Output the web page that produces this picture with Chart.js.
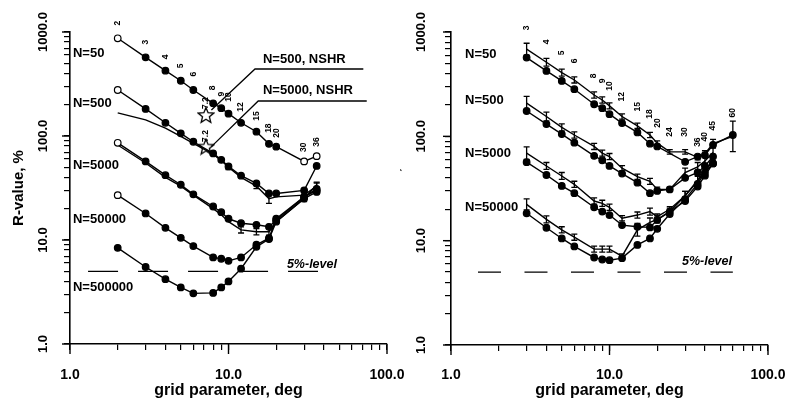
<!DOCTYPE html>
<html>
<head>
<meta charset="utf-8">
<script src="https://cdn.jsdelivr.net/npm/chart.js@4/dist/chart.umd.min.js"></script>
<style>
html, body { margin: 0; padding: 0; background: #fff; }
#wrap { position: relative; width: 787px; height: 401px; overflow: hidden; }
#cL { position: absolute; left: 0; top: 0; }
#cR { position: absolute; left: 400px; top: 0; }
</style>
</head>
<body>
<div id="wrap">
  <canvas id="cL" width="420" height="401"></canvas>
  <canvas id="cR" width="387" height="401"></canvas>
</div>
<script>
const FONT = '"Liberation Sans", Arial, Helvetica, sans-serif';

// ---- left panel data (grid parameter, deg -> R-value, %) ----
const gridL    = [2, 3, 4, 5, 6, 7.2, 8, 9, 10, 12, 15, 18, 20, 30, 36];
const l50      = [870, 571, 425, 340, 277, null, 206, 185, 164, 134, 110, 84, 79, 57, 64];
const l500     = [277, 182, 134, 106, 88, null, 68, 59, 51, 41.5, 35, 28, 28, 30, 51.5];
const l500b    = [167, 143, 119, 99, 85, null, 67, 58, 50, 40, 33, 25, 26, 27, 33];
const l500bErr = [null, null, null, null, null, null, null, null, 1.05, null, 1.06, 1.11, null, 1.06, 1.07];
const l5000    = [86, 57, 42, 34, 27.5, null, 21, 18.5, 16, 14.5, 14, 13.4, 15.5, 26, 31];
const l5000b   = [82, 55, 40, 33, 27, null, 20, 17.5, 15, 12.5, 12, 12, 15, 25, 34];
const l5000bErr= [null, null, null, null, null, null, null, null, null, 1.07, 1.07, 1.08, null, 1.07, 1.06];
const l50000   = [27, 18, 13.1, 10.5, 8.75, null, 6.8, 6.6, 6.3, 6.8, 9.0, 10.4, 16, 26, 30];
const l500000  = [8.4, 5.5, 4.2, 3.5, 3.07, null, 3.1, 3.5, 4.0, 5.3, 8.6, 10.2, 15, 25, 29];
const nshrX    = [7.2, 7.2];
const nshrY    = [159, 79];
const leader500X  = [7.8, 14.7, 70.9];
const leader500Y  = [178, 441, 441];
const leader5000X = [7.8, 15.4, 74.5];
const leader5000Y = [79, 217, 217];
const levelL   = [1.3, 36.7];   // x span of the 5%-level line

// ---- right panel data ----
const gridR     = [3, 4, 5, 6, 8, 9, 10, 12, 15, 18, 20, 24, 30, 36, 40, 45, 60];
const r50       = [569, 424, 340, 283, 203, 186, 163, 134, 109, 85, 80, null, 57, 64, 66, 83, 103];
const r50b      = [684, 513, 408, 347, 249, 223, 196, 155, 126, 103, 86, 71, 71, 63, 68, 85, 100];
const r50bErr   = [1.14, 1.09, 1.08, 1.07, 1.07, 1.07, 1.07, 1.06, 1.06, 1.06, 1.05, 1.05, 1.05, 1.06, 1.07, 1.1, 1.4];
const r500      = [175, 131, 105, 87, 65, 59, 52, 44, 36, 28.5, 30, 31, 40, 45, 52, 64, null];
const r500b     = [208, 155, 122, 103, 80, 69, 64, 49.5, 41, 37, 31, 31, 45, 51, 58, 70, null];
const r500bErr  = [1.16, 1.1, 1.08, 1.07, 1.07, 1.07, 1.07, 1.06, 1.06, 1.07, 1.05, 1.05, 1.1, 1.1, 1.1, 1.12, null];
const r5000     = [56.5, 42.6, 33.5, 28.5, 20.9, 19, 17.6, 14.1, 13.6, 13.4, 15.8, 19, 24, 33, 42, 55, null];
const r5000b    = [69, 52, 41.7, 34.7, 24, 22.8, 20.9, 16.4, 17.6, 19, 17, 20, 27, 37, 46, 60, null];
const r5000bErr = [1.15, 1.08, 1.08, 1.07, 1.07, 1.07, 1.07, 1.06, 1.07, 1.08, 1.06, 1.06, 1.1, 1.12, 1.12, 1.12, null];
const r50000    = [18.3, 13.3, 10.5, 8.8, 6.9, 6.6, 6.5, 6.8, 9.1, 10.5, 13, 18, 25, 35, 45, 55, null];
const r50000b   = [22.3, 16, 12.7, 10.8, 8.3, 8.3, 8.3, 7.1, 12.7, 15, 16, 19, 27, 38, 47, 58, null];
const r50000bErr= [1.13, 1.08, 1.07, 1.07, 1.07, 1.07, 1.07, 1.05, 1.15, 1.1, 1.08, 1.08, 1.1, 1.12, 1.12, 1.12, null];
const levelR    = [1.48, 60];
const LEVEL = 5;

// ---- tick values / labels ----
const xTickValues = [1,2,3,4,5,6,7,8,9,10,20,30,40,50,60,70,80,90,100];
const yTickValues = [1,2,3,4,5,6,7,8,9,10,20,30,40,50,60,70,80,90,100,200,300,400,500,600,700,800,900,1000];

// grid parameter labels written along the top curves (text, x, y in data units)
const gpTextL = ['2','3','4','5','6','8','9','10','12','15','18','20','30','36','7.2','7.2'];
const gpXL    = [2, 3, 4, 5, 6, 8, 9, 10, 12, 15, 18, 20, 30, 36, 7.2, 7.2];
const gpYL    = [1220, 801, 575, 471, 394, 290, 253, 237, 190, 156, 119, 107, 78, 87.5, 207, 100];
const gpTextR = ['3','4','5','6','8','9','10','12','15','18','20','24','30','36','40','45','60'];
const gpYR    = [1094, 804, 630, 528, 379, 340, 304, 239, 192, 164, 134, 110, 110, 88, 99, 126, 168];

const notesL = [
  {t: 'N=50', x: 1.044, y: 628, size: 13},
  {t: 'N=500', x: 1.044, y: 207, size: 13},
  {t: 'N=5000', x: 1.044, y: 52.6, size: 13},
  {t: 'N=50000', x: 1.044, y: 15.9, size: 13},
  {t: 'N=500000', x: 1.044, y: 3.53, size: 13},
  {t: 'N=500, NSHR', x: 16.5, y: 550, size: 13},
  {t: 'N=5000, NSHR', x: 16.5, y: 277, size: 13},
  {t: '5%-level', x: 33.6, y: 5.75, size: 12.5, italic: true, align: 'center'}
].concat(gpTextL.map((t, i) => ({t, x: gpXL[i], y: gpYL[i], size: 8.5, rot: true, align: 'center'})));

const notesR = [
  {t: 'N=50', x: 1.226, y: 603, size: 13},
  {t: 'N=500', x: 1.226, y: 223, size: 13},
  {t: 'N=5000', x: 1.226, y: 69.3, size: 13},
  {t: 'N=50000', x: 1.226, y: 21, size: 13},
  {t: '5%-level', x: 41.2, y: 6.25, size: 12.5, italic: true, align: 'center'}
].concat(gpTextR.map((t, i) => ({t, x: gridR[i], y: gpYR[i], size: 8.5, rot: true, align: 'center'})));

// open five-point star used for the NSHR points
function makeStar() {
  const c = document.createElement('canvas');
  c.width = 18; c.height = 18;
  const g = c.getContext('2d');
  g.beginPath();
  for (let k = 0; k < 10; k++) {
    const r = k % 2 ? 3.6 : 8.2;
    const a = -Math.PI / 2 + k * Math.PI / 5;
    const px = 9 + r * Math.cos(a), py = 9.6 + r * Math.sin(a);
    k ? g.lineTo(px, py) : g.moveTo(px, py);
  }
  g.closePath();
  g.fillStyle = '#fff'; g.fill();
  g.strokeStyle = '#000'; g.lineWidth = 1.3; g.stroke();
  return c;
}

function pts(xs, ys) { return xs.map((x, i) => ({x: x, y: ys[i]})); }

function dotLine(xs, ys, open) {
  return {
    data: pts(xs, ys), borderColor: '#000', borderWidth: 1.4, spanGaps: true,
    pointRadius: 3.3, pointBorderColor: '#000', pointBorderWidth: 1.2,
    pointBackgroundColor: ys.map((_, i) => (open || []).includes(i) ? '#fff' : '#000')
  };
}
function ebLine(xs, ys, err) {
  return {data: pts(xs, ys), borderColor: '#000', borderWidth: 1.4, spanGaps: true, pointRadius: 0, errF: err};
}
function plainLine(xs, ys, dash) {
  return {data: pts(xs, ys), borderColor: '#000', borderWidth: 1.3, pointRadius: 0, borderDash: dash || []};
}

const isDecade = v => Math.abs(Math.log10(v) - Math.round(Math.log10(v))) < 1e-9;

// error bars, longer major ticks, text notes
const extras = {
  id: 'extras',
  afterDatasetsDraw(chart, args, opts) {
    const ctx = chart.ctx, xs = chart.scales.x, ys = chart.scales.y;
    ctx.save();
    ctx.strokeStyle = '#000';
    ctx.lineWidth = 1.3;
    chart.data.datasets.forEach(ds => {
      if (!ds.errF) return;
      ds.data.forEach((p, i) => {
        const f = ds.errF[i];
        if (!f || p.y == null) return;
        const px = xs.getPixelForValue(p.x);
        const y1 = ys.getPixelForValue(p.y / f), y2 = ys.getPixelForValue(p.y * f);
        ctx.beginPath();
        ctx.moveTo(px, y1); ctx.lineTo(px, y2);
        ctx.moveTo(px - 3, y1); ctx.lineTo(px + 3, y1);
        ctx.moveTo(px - 3, y2); ctx.lineTo(px + 3, y2);
        ctx.stroke();
      });
    });
    // major ticks a bit longer than the minor ones
    ctx.lineWidth = 1.4;
    xTickValues.filter(isDecade).forEach(v => {
      const px = xs.getPixelForValue(v);
      ctx.beginPath(); ctx.moveTo(px, ys.bottom); ctx.lineTo(px, ys.bottom + 10); ctx.stroke();
    });
    yTickValues.filter(isDecade).forEach(v => {
      const py = ys.getPixelForValue(v);
      ctx.beginPath(); ctx.moveTo(xs.left, py); ctx.lineTo(xs.left - 8, py); ctx.stroke();
    });
    ctx.fillStyle = '#000';
    (opts.notes || []).forEach(n => {
      ctx.save();
      ctx.translate(xs.getPixelForValue(n.x), ys.getPixelForValue(n.y));
      if (n.rot) ctx.rotate(-Math.PI / 2);
      ctx.font = (n.italic ? 'italic ' : '') + 'bold ' + n.size + 'px ' + FONT;
      ctx.textAlign = n.align || 'left';
      ctx.textBaseline = 'middle';
      ctx.fillText(n.t, 0, 0);
      ctx.restore();
    });
    ctx.restore();
  }
};

function panelOptions(cfg) {
  const gridOpts = {drawOnChartArea: false, color: '#000', tickLength: 6, lineWidth: 1.2};
  const border = {color: '#000', width: 1.6};
  return {
    responsive: false,
    animation: false,
    layout: {padding: {top: 32, right: cfg.padRight, bottom: 0, left: 0}},
    plugins: {legend: {display: false}, tooltip: {enabled: false}, extras: {notes: cfg.notes}},
    scales: {
      x: {
        type: 'logarithmic', min: 1, max: 100,
        afterBuildTicks: s => { s.ticks = xTickValues.map(v => ({value: v})); },
        afterFit: s => { s.height = cfg.xHeight; s.paddingLeft = 0; s.paddingRight = 0; },
        grid: gridOpts, border: border,
        ticks: {
          autoSkip: false, minRotation: 0, maxRotation: 0, padding: cfg.xTickPad, color: '#000',
          font: {family: FONT, size: 14, weight: 'bold'},
          callback: v => isDecade(v) ? Number(v).toFixed(1) : ''
        },
        title: {display: true, text: 'grid parameter, deg', color: '#000',
                font: {family: FONT, size: 16, weight: 'bold'}, padding: {top: 0, bottom: 1}}
      },
      y: {
        type: 'logarithmic', min: 1, max: 1000,
        afterBuildTicks: s => { s.ticks = yTickValues.map(v => ({value: v})); },
        afterFit: s => { s.width = cfg.yWidth; s.paddingTop = 0; s.paddingBottom = 0; },
        grid: gridOpts, border: border,
        ticks: {
          autoSkip: false, minRotation: 90, maxRotation: 90, crossAlign: 'center',
          padding: cfg.yTickPad, color: '#000',
          font: {family: FONT, size: 13, weight: 'bold'},
          callback: v => isDecade(v) ? Number(v).toFixed(1) : ''
        },
        title: {display: true, text: 'R-value, %', color: '#000',
                font: {family: FONT, size: 15, weight: 'bold'}, padding: {top: cfg.yTitlePad, bottom: 0}}
      }
    }
  };
}

const star = makeStar();

new Chart(document.getElementById('cL'), {
  type: 'line',
  data: {
    datasets: [
      plainLine(levelL, [LEVEL, LEVEL], [30, 20]),
      plainLine(leader500X, leader500Y),
      plainLine(leader5000X, leader5000Y),
      dotLine(gridL, l50, [0, 13, 14]),
      dotLine(gridL, l500, [0]),
      ebLine(gridL, l500b, l500bErr),
      dotLine(gridL, l5000, [0]),
      ebLine(gridL, l5000b, l5000bErr),
      dotLine(gridL, l50000, [0]),
      dotLine(gridL, l500000),
      {data: pts(nshrX, nshrY), showLine: false, pointStyle: star, pointRadius: 8}
    ]
  },
  options: panelOptions({padRight: 33, xHeight: 57, yWidth: 70, xTickPad: 16.6, yTickPad: 1.1, yTitlePad: 10, notes: notesL}),
  plugins: [extras]
});

new Chart(document.getElementById('cR'), {
  type: 'line',
  data: {
    datasets: [
      plainLine(levelR, [LEVEL, LEVEL], [23, 23.5]),
      dotLine(gridR, r50),
      ebLine(gridR, r50b, r50bErr),
      dotLine(gridR, r500),
      ebLine(gridR, r500b, r500bErr),
      dotLine(gridR, r5000),
      ebLine(gridR, r5000b, r5000bErr),
      dotLine(gridR, r50000),
      ebLine(gridR, r50000b, r50000bErr)
    ]
  },
  options: panelOptions({padRight: 19, xHeight: 56, yWidth: 51, xTickPad: 15.6, yTickPad: 4.1, yTitlePad: -14.5, notes: notesR}),
  plugins: [extras]
});
</script>
</body>
</html>
